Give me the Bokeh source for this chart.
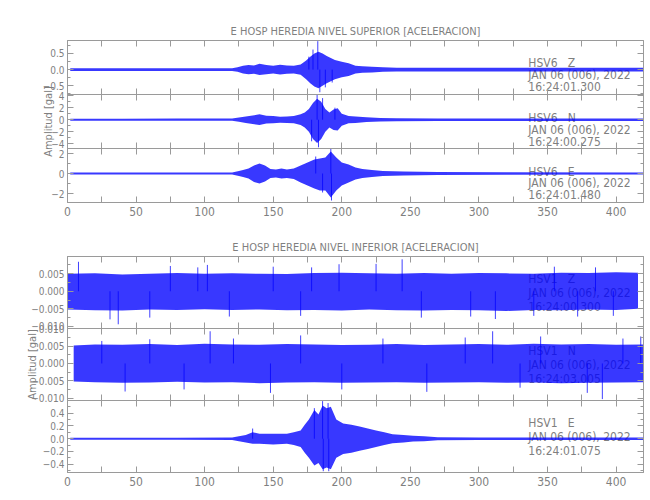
from bokeh.plotting import figure
from bokeh.models import Range1d, LinearAxis, FixedTicker, CustomLabelingPolicy
from bokeh.layouts import column
from bokeh.core.properties import value
from bokeh.embed import file_html
from bokeh.resources import INLINE

# ---------------- data ----------------
X_TICKS = [0, 50, 100, 150, 200, 250, 300, 350, 400]
X_MINOR = [25, 75, 125, 175, 225, 275, 325, 375, 425]

TITLE_TOP = "E HOSP HEREDIA NIVEL SUPERIOR [ACELERACION]"
TITLE_BOT = "E HOSP HEREDIA NIVEL INFERIOR [ACELERACION]"
Y_LABEL = "Amplitud [gal]"
DATE = "JAN 06 (006), 2022"
STATIONS_TOP = ["HSV6\u00a0\u00a0\u00a0Z", "HSV6\u00a0\u00a0\u00a0N", "HSV6\u00a0\u00a0\u00a0E"]
TIMES_TOP = ["16:24:01.300", "16:24:00.275", "16:24:01.480"]
STATIONS_BOT = ["HSV1\u00a0\u00a0\u00a0Z", "HSV1\u00a0\u00a0\u00a0N", "HSV1\u00a0\u00a0\u00a0E"]
TIMES_BOT = ["16:24:00.300", "16:24:03.005", "16:24:01.075"]

# HSV6 Z
A1_T = [2, 20, 40, 60, 80, 100, 120, 124, 128, 132, 136, 140, 145, 150, 155, 160, 165, 170,
        174, 177, 180, 183, 186, 189, 192, 195, 200, 205, 210, 215, 222, 230, 240, 260, 300, 350, 420]
A1_UP = [.04, .04, .045, .04, .045, .04, .045, .07, .12, .14, .13, .18, .14, .12, .15, .13, .12, .16,
         .28, .40, .50, .55, .50, .42, .36, .30, .24, .20, .12, .10, .09, .07, .06, .06, .06, .06, .06]
A1_LO = [-.04, -.04, -.045, -.04, -.045, -.04, -.045, -.07, -.12, -.14, -.13, -.17, -.14, -.12, -.15, -.13, -.12, -.16,
         -.30, -.42, -.52, -.58, -.50, -.42, -.36, -.30, -.24, -.20, -.12, -.10, -.09, -.07, -.06, -.06, -.06, -.06, -.06]
A1_SPK_T = [182.5, 184, 179, 188, 176, 193]
A1_SPK_V = [0.88, -0.70, 0.62, -0.55, 0.40, -0.40]

# HSV6 N
A2_T = [2, 40, 80, 120, 125, 130, 135, 140, 145, 150, 155, 160, 165, 170,
        173, 176, 179, 182, 185, 188, 191, 194, 197, 200, 205, 210, 218, 228, 240, 270, 320, 420]
A2_UP = [.17, .17, .18, .18, .35, .55, .7, .9, .65, .6, .5, .55, .6, .9,
         1.2, 1.8, 2.8, 3.5, 3.0, 1.8, 1.2, 1.7, 1.9, 1.0, .6, .55, .4, .3, .25, .2, .2, .2]
A2_LO = [-.17, -.17, -.18, -.18, -.35, -.55, -.7, -.9, -.65, -.6, -.5, -.55, -.6, -.9,
         -1.3, -2.0, -3.2, -3.9, -3.2, -2.0, -1.3, -1.7, -1.8, -1.0, -.6, -.55, -.4, -.3, -.25, -.2, -.2, -.2]
A2_SPK_T = [182, 183, 178, 186, 195]
A2_SPK_V = [4.15, -4.6, -3.6, 3.6, 2.0]

# HSV6 E
A3_T = [2, 40, 80, 120, 125, 128, 132, 136, 140, 144, 148, 152, 156, 160, 165, 170, 175, 180,
        184, 188, 192, 196, 200, 205, 210, 215, 222, 230, 245, 270, 320, 420]
A3_UP = [.1, .1, .1, .1, .25, .35, .5, .8, 1.0, .8, .45, .4, .5, .4, .5, .8, 1.1, 1.4,
         1.5, 1.6, 2.2, 1.6, 1.1, .9, .6, .45, .35, .25, .2, .15, .12, .1]
A3_LO = [-.1, -.1, -.1, -.1, -.25, -.35, -.5, -.85, -1.0, -.8, -.45, -.4, -.5, -.45, -.55, -.9, -1.2, -1.5,
         -1.7, -1.7, -2.4, -1.7, -1.2, -.9, -.6, -.45, -.35, -.25, -.2, -.15, -.12, -.1]
A3_SPK_T = [192, 192.5, 186, 181]
A3_SPK_V = [2.45, -2.7, -1.9, 1.7]

# HSV1 Z
B1_T = [0, 20, 40, 60, 80, 100, 120, 140, 160, 180, 200, 220, 240, 260, 280, 300, 320, 340, 360, 380, 400, 416]
B1_UP = [0.0050, 0.0051, 0.0048, 0.0050, 0.0052, 0.0050, 0.0051, 0.0050, 0.0049, 0.0052, 0.0053,
         0.0051, 0.0050, 0.0052, 0.0050, 0.0052, 0.0051, 0.0050, 0.0053, 0.0052, 0.0054, 0.0053]
B1_LO = [-0.0052, -0.0054, -0.0055, -0.0052, -0.0053, -0.0051, -0.0053, -0.0052, -0.0054, -0.0053, -0.0055,
         -0.0052, -0.0054, -0.0055, -0.0053, -0.0054, -0.0056, -0.0053, -0.0054, -0.0052, -0.0053, -0.0050]
B1_SPK_T = [8, 31, 37, 60, 75, 95, 102, 118, 150, 170, 178, 198, 225, 244, 258, 294, 312, 340, 355, 372, 385, 398]
B1_SPK_V = [0.0084, -0.0080, -0.0094, -0.0075, 0.0072, 0.0068, 0.0075, -0.0072, 0.0070, -0.0070, 0.0068,
            0.0077, 0.0078, 0.0091, -0.0075, -0.0072, -0.0079, -0.0070, 0.0070, -0.0072, 0.0068, -0.0070]

# HSV1 N
B2_T = [4.5, 20, 40, 60, 80, 100, 120, 140, 160, 180, 200, 220, 240, 260, 280, 300, 320, 340, 360, 380, 400, 420]
B2_UP = [0.0052, 0.0055, 0.0054, 0.0056, 0.0053, 0.0057, 0.0055, 0.0054, 0.0056, 0.0055, 0.0053,
         0.0054, 0.0056, 0.0053, 0.0055, 0.0056, 0.0054, 0.0057, 0.0055, 0.0056, 0.0054, 0.0055]
B2_LO = [-0.0052, -0.0054, -0.0056, -0.0055, -0.0053, -0.0055, -0.0054, -0.0057, -0.0055, -0.0054, -0.0056,
         -0.0055, -0.0054, -0.0056, -0.0055, -0.0054, -0.0056, -0.0055, -0.0057, -0.0056, -0.0055, -0.0054]
B2_SPK_T = [25, 42, 60, 85, 104, 121, 148, 170, 200, 230, 262, 290, 310, 330, 345, 379, 390, 405, 418]
B2_SPK_V = [0.0065, -0.0081, 0.0070, -0.0075, 0.0093, 0.0072, -0.0085, 0.0081, -0.0075, 0.0072,
            -0.0082, 0.0075, 0.0093, -0.0070, 0.0078, -0.0085, -0.0103, 0.0072, 0.0078]

# HSV1 E
B3_T = [2, 40, 80, 120, 125, 130, 135, 140, 150, 160, 165, 170, 173, 176, 180, 183, 186, 189, 192, 196,
        201, 207, 213, 219, 225, 231, 237, 245, 252, 260, 270, 300, 350, 420]
B3_UP = [.016, .016, .016, .018, .04, .06, .10, .08, .08, .08, .10, .13, .22, .30, .45, .38, .52, .48, .50, .30,
         .24, .22, .19, .16, .13, .10, .07, .06, .045, .04, .025, .02, .02, .02]
B3_LO = [-.016, -.016, -.016, -.018, -.04, -.06, -.08, -.08, -.09, -.08, -.10, -.13, -.22, -.30, -.42, -.38, -.48, -.45, -.48, -.30,
         -.24, -.22, -.19, -.16, -.13, -.10, -.07, -.06, -.045, -.04, -.025, -.02, -.02, -.02]
B3_SPK_T = [186, 186.5, 190, 190.5, 180, 135]
B3_SPK_V = [0.59, -0.51, 0.56, -0.51, 0.48, 0.16]

# ---------------- styling ----------------
FONT = "DejaVu Sans Condensed"
GRAY = "#7f7f7f"
LINE_GRAY = "#9a9a9a"
BLUE = "#0000ff"
FRAME_W = 576
PAD = 12   # transparent overlap band between stacked panels

x_range = Range1d(0, 420)

NO_LABELS = "for (const i of indices) { indices.unset(i) }\nreturn indices"


def hidden_axis(ticker, tick_len, minor_len):
    return LinearAxis(ticker=ticker, major_label_text_font_size="0px", major_label_standoff=0,
                      major_label_policy=CustomLabelingPolicy(code=NO_LABELS),
                      major_tick_in=tick_len, major_tick_out=0, minor_tick_in=minor_len, minor_tick_out=0,
                      axis_line_color=LINE_GRAY, major_tick_line_color=LINE_GRAY,
                      minor_tick_line_color=LINE_GRAY)


def panel(frame_h, yr, yticks, yminor, ylabels, t, up, lo, spk_t, spk_v, station, time_txt, txt_y,
          line_h, top=None, bottom=None, xlabels=False, title=None, ylabel_standoff=None):
    b_top = PAD if top is None else top
    b_bot = PAD if bottom is None else bottom
    m_top = -PAD if top is None else 0
    m_bot = -PAD if bottom is None else 0
    p = figure(frame_width=FRAME_W, frame_height=frame_h, x_range=x_range, y_range=Range1d(*yr),
               output_backend="svg", toolbar_location=None, x_axis_type=None, y_axis_type=None,
               min_border=0, min_border_left=67, min_border_right=5,
               min_border_top=b_top, min_border_bottom=b_bot,
               margin=(m_top, 0, m_bot, 0))
    p.outline_line_color = LINE_GRAY
    p.xgrid.visible = False
    p.ygrid.visible = False
    p.background_fill_alpha = 0
    p.border_fill_alpha = 0

    yt = FixedTicker(ticks=yticks, minor_ticks=yminor)
    left = LinearAxis(ticker=yt, major_tick_in=6, major_tick_out=0, minor_tick_in=3, minor_tick_out=0,
                      axis_line_color=LINE_GRAY, major_tick_line_color=LINE_GRAY,
                      minor_tick_line_color=LINE_GRAY, major_label_standoff=3,
                      major_label_text_font=FONT, major_label_text_font_size="10px",
                      major_label_text_color=GRAY,
                      major_label_overrides={k: v for k, v in zip(yticks, ylabels)})
    if ylabel_standoff is not None:
        left.axis_label = Y_LABEL
        left.axis_label_standoff = ylabel_standoff
        left.axis_label_text_font = FONT
        left.axis_label_text_font_size = "11px"
        left.axis_label_text_font_style = "normal"
        left.axis_label_text_color = GRAY
    p.add_layout(left, "left")
    p.add_layout(hidden_axis(FixedTicker(ticks=yticks, minor_ticks=yminor), 6, 3), "right")

    xt = FixedTicker(ticks=X_TICKS, minor_ticks=X_MINOR)
    if xlabels:
        below = LinearAxis(ticker=xt, major_tick_in=6, major_tick_out=0, minor_tick_in=6, minor_tick_out=0,
                           axis_line_color=LINE_GRAY, major_tick_line_color=LINE_GRAY,
                           minor_tick_line_color=LINE_GRAY, major_label_standoff=4,
                           major_label_text_font=FONT, major_label_text_font_size="12px",
                           major_label_text_color=GRAY)
    else:
        below = hidden_axis(xt, 6, 6)
    p.add_layout(below, "below")
    p.add_layout(hidden_axis(FixedTicker(ticks=X_TICKS, minor_ticks=X_MINOR), 6, 6), "above")

    if title:
        p.title.text = title
        p.title.align = "center"
        p.title.text_font = FONT
        p.title.text_font_size = "11px"
        p.title.text_font_style = "normal"
        p.title.text_color = GRAY
        p.title.standoff = 6

    # station text (under the trace)
    p.text(x=[336], y=[txt_y], text=[station + "\n" + DATE + "\n" + time_txt],
           text_font=value(FONT), text_font_size="12px", text_color=GRAY,
           text_align="left", text_baseline="middle", text_line_height=line_h)

    # trace envelope
    p.varea(x=t, y1=lo, y2=up, fill_color=BLUE, fill_alpha=0.78)
    p.segment(x0=spk_t, y0=[0] * len(spk_t), x1=spk_t, y1=spk_v, line_color=BLUE, line_alpha=0.75,
              line_width=1)
    return p


a1 = panel(54, (-0.77, 0.90), [-0.5, 0.0, 0.5], [-0.75, -0.25, 0.25, 0.75], ["−0.5", "0.0", "0.5"],
           A1_T, A1_UP, A1_LO, A1_SPK_T, A1_SPK_V, STATIONS_TOP[0], TIMES_TOP[0], -0.17, 0.85,
           top=40, title=TITLE_TOP)
a2 = panel(54, (-4.8, 4.2), [-4, -2, 0, 2, 4], [-3, -1, 1, 3], ["−4", "−2", "0", "2", "4"],
           A2_T, A2_UP, A2_LO, A2_SPK_T, A2_SPK_V, STATIONS_TOP[1], TIMES_TOP[1], -1.7, 0.85,
           ylabel_standoff=-7)
a3 = panel(54, (-2.9, 2.5), [-2, 0, 2], [-1, 1], ["−2", "0", "2"],
           A3_T, A3_UP, A3_LO, A3_SPK_T, A3_SPK_V, STATIONS_TOP[2], TIMES_TOP[2], -1.0, 0.85,
           bottom=26, xlabels=True)
b1 = panel(72, (-0.0106, 0.0099), [-0.010, -0.005, 0.0, 0.005], [-0.0075, -0.0025, 0.0025, 0.0075],
           ["−0.010", "−0.005", "0.000", "0.005"],
           B1_T, B1_UP, B1_LO, B1_SPK_T, B1_SPK_V, STATIONS_BOT[0], TIMES_BOT[0], -0.0005, 0.99,
           top=28, title=TITLE_BOT)
b2 = panel(72, (-0.0107, 0.0101), [-0.010, -0.005, 0.0, 0.005, 0.010],
           [-0.0075, -0.0025, 0.0025, 0.0075], ["−0.010", "−0.005", "0.000", "0.005", "0.010"],
           B2_T, B2_UP, B2_LO, B2_SPK_T, B2_SPK_V, STATIONS_BOT[1], TIMES_BOT[1], -0.0004, 0.99,
           ylabel_standoff=-11)
b3 = panel(72, (-0.53, 0.60), [-0.4, -0.2, 0.0, 0.2, 0.4], [-0.5, -0.3, -0.1, 0.1, 0.3, 0.5],
           ["−0.4", "−0.2", "0.0", "0.2", "0.4"],
           B3_T, B3_UP, B3_LO, B3_SPK_T, B3_SPK_V, STATIONS_BOT[2], TIMES_BOT[2], 0.026, 0.99,
           bottom=20, xlabels=True)

layout = column(a1, a2, a3, b1, b2, b3, spacing=0)

open("out.html", "w").write(file_html(layout, INLINE))
